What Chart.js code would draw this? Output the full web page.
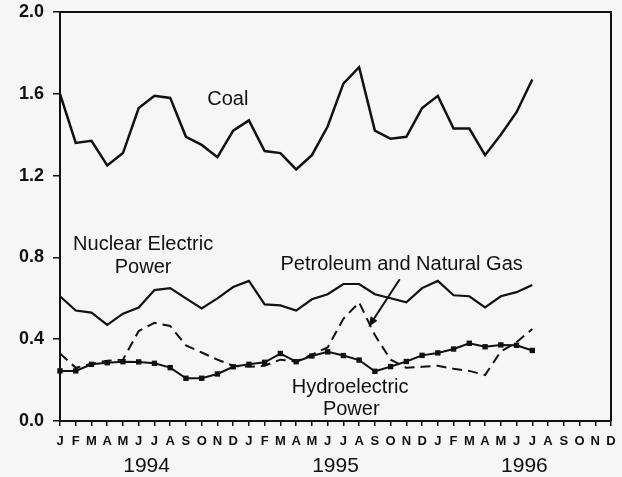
<!DOCTYPE html>
<html>
<head>
<meta charset="utf-8">
<script src="https://cdn.jsdelivr.net/npm/chart.js@4.4.1/dist/chart.umd.min.js"></script>
<style>
  html, body { margin: 0; padding: 0; background: #f6f6f6; }
  #wrap { width: 622px; height: 477px; }
</style>
</head>
<body>
<div id="wrap"><canvas id="c" width="622" height="477"></canvas></div>
<script>
// Monthly axis: Jan 1994 – Dec 1996
const months = ['J','F','M','A','M','J','J','A','S','O','N','D',
                'J','F','M','A','M','J','J','A','S','O','N','D',
                'J','F','M','A','M','J','J','A','S','O','N','D'];
const years = ['1994', '1995', '1996'];
const yTicks = [0.0, 0.4, 0.8, 1.2, 1.6, 2.0];

// Series, Jan 1994 – Jul 1996
const coal = [1.60, 1.36, 1.37, 1.25, 1.31, 1.53, 1.59, 1.58, 1.39, 1.35, 1.29, 1.42,
              1.47, 1.32, 1.31, 1.23, 1.30, 1.44, 1.65, 1.73, 1.42, 1.38, 1.39, 1.53,
              1.59, 1.43, 1.43, 1.30, 1.40, 1.51, 1.67];
const nuclear = [0.61, 0.54, 0.53, 0.47, 0.525, 0.555, 0.64, 0.65, 0.60, 0.55, 0.60, 0.655,
                 0.685, 0.57, 0.565, 0.54, 0.595, 0.62, 0.67, 0.67, 0.62, 0.60, 0.58, 0.65,
                 0.685, 0.615, 0.61, 0.555, 0.61, 0.63, 0.665];
const petroleumGas = [0.33, 0.26, 0.28, 0.295, 0.30, 0.44, 0.48, 0.465, 0.37, 0.335, 0.30, 0.27,
                      0.265, 0.27, 0.30, 0.29, 0.325, 0.36, 0.50, 0.58, 0.42, 0.30, 0.26, 0.265,
                      0.27, 0.255, 0.245, 0.225, 0.34, 0.385, 0.45];
const hydro = [0.245, 0.245, 0.277, 0.285, 0.29, 0.289, 0.282, 0.261, 0.209, 0.209, 0.23, 0.265,
               0.277, 0.287, 0.33, 0.29, 0.318, 0.338, 0.32, 0.298, 0.243, 0.266, 0.291, 0.321,
               0.333, 0.352, 0.38, 0.363, 0.372, 0.37, 0.345];

const INK = '#111';
const FONT = "'Liberation Sans', Arial, Helvetica, sans-serif";

// Series labels placed in data coordinates (month index, value)
const seriesLabels = [
  { text: 'Coal', i: 10.66, v: 1.573 },
  { text: 'Nuclear Electric', i: 5.28, v: 0.861 },
  { text: 'Power', i: 5.28, v: 0.753 },
  { text: 'Petroleum and Natural Gas', i: 21.7, v: 0.766 },
  { text: 'Hydroelectric', i: 18.43, v: 0.165 },
  { text: 'Power', i: 18.5, v: 0.057 }
];
const pointer = { from: { i: 21.58, v: 0.693 }, to: { i: 19.6, v: 0.46 } };

const decorations = {
  id: 'decorations',
  afterDraw(chart) {
    const { ctx, chartArea: a, scales: { x, y } } = chart;
    ctx.save();
    // plot frame (top and right)
    ctx.strokeStyle = INK;
    ctx.lineWidth = 2;
    ctx.beginPath();
    ctx.moveTo(a.left, a.top);
    ctx.lineTo(a.right, a.top);
    ctx.lineTo(a.right, a.bottom);
    ctx.stroke();

    // year captions centred under each year's months
    ctx.fillStyle = INK;
    ctx.font = `21px ${FONT}`;
    ctx.textAlign = 'center';
    ctx.textBaseline = 'alphabetic';
    years.forEach((yr, k) => {
      ctx.fillText(yr, x.getPixelForValue(k * 12 + 5.5), 472);
    });

    // series labels
    ctx.font = `20px ${FONT}`;
    ctx.textBaseline = 'middle';
    seriesLabels.forEach(l => {
      ctx.fillText(l.text, x.getPixelForValue(l.i), y.getPixelForValue(l.v));
    });

    // pointer arrow to the petroleum line
    const x1 = x.getPixelForValue(pointer.from.i), y1 = y.getPixelForValue(pointer.from.v);
    const x2 = x.getPixelForValue(pointer.to.i), y2 = y.getPixelForValue(pointer.to.v);
    const ang = Math.atan2(y2 - y1, x2 - x1);
    const hl = 10, hw = 4;
    ctx.lineWidth = 2;
    ctx.beginPath();
    ctx.moveTo(x1, y1);
    ctx.lineTo(x2 - Math.cos(ang) * hl * 0.8, y2 - Math.sin(ang) * hl * 0.8);
    ctx.stroke();
    ctx.beginPath();
    ctx.moveTo(x2, y2);
    ctx.lineTo(x2 - Math.cos(ang) * hl - Math.sin(ang) * hw, y2 - Math.sin(ang) * hl + Math.cos(ang) * hw);
    ctx.lineTo(x2 - Math.cos(ang) * hl + Math.sin(ang) * hw, y2 - Math.sin(ang) * hl - Math.cos(ang) * hw);
    ctx.closePath();
    ctx.fill();
    ctx.restore();
  }
};

new Chart(document.getElementById('c'), {
  type: 'line',
  data: {
    labels: months,
    datasets: [
      { label: 'Coal', data: coal, borderColor: INK, borderWidth: 2.5, pointRadius: 0, tension: 0, fill: false },
      { label: 'Nuclear Electric Power', data: nuclear, borderColor: INK, borderWidth: 2.2, pointRadius: 0, tension: 0, fill: false },
      { label: 'Petroleum and Natural Gas', data: petroleumGas, borderColor: INK, borderWidth: 2, borderDash: [10, 6], pointRadius: 0, tension: 0, fill: false },
      { label: 'Hydroelectric Power', data: hydro, borderColor: INK, borderWidth: 2, pointStyle: 'rect', pointRadius: 3.8,
        pointBackgroundColor: INK, pointBorderColor: INK, pointBorderWidth: 0, tension: 0, fill: false }
    ]
  },
  options: {
    responsive: false,
    devicePixelRatio: 1,
    animation: false,
    layout: { padding: { left: 0, top: 12, right: 11, bottom: 0 } },
    plugins: { legend: { display: false }, tooltip: { enabled: false } },
    scales: {
      x: {
        type: 'category',
        offset: false,
        grid: { drawOnChartArea: false, drawTicks: true, tickLength: 5, color: INK, lineWidth: 1.5 },
        border: { display: true, color: INK, width: 2 },
        ticks: { autoSkip: false, maxRotation: 0, minRotation: 0, padding: 8, color: INK,
                 font: { family: FONT, size: 13, weight: 'bold' } },
        afterFit(s) { s.height = 56; s.paddingLeft = 0; s.paddingRight = 0; }
      },
      y: {
        min: 0, max: 2,
        afterBuildTicks(s) { s.ticks = yTicks.map(v => ({ value: v })); },
        grid: { drawOnChartArea: false, drawTicks: true, tickLength: 7, color: INK, lineWidth: 1.5 },
        border: { display: true, color: INK, width: 2 },
        ticks: { padding: 9, color: INK, font: { family: FONT, size: 18, weight: 'bold' },
                 callback: v => Number(v).toFixed(1) },
        afterFit(s) { s.width = 60; s.paddingTop = 0; s.paddingBottom = 0; }
      }
    }
  },
  plugins: [decorations]
});
</script>
</body>
</html>
